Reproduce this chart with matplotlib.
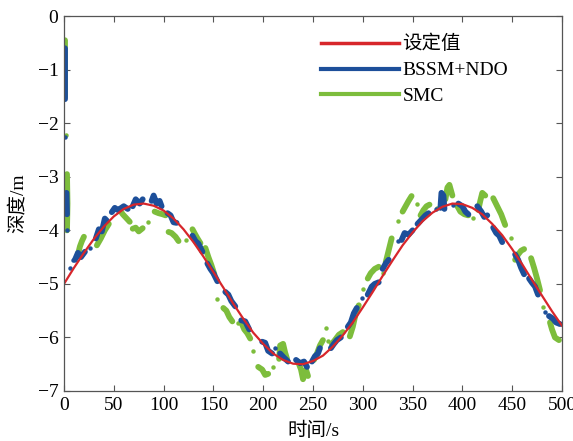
import numpy as np
import matplotlib
matplotlib.use("Agg")
import matplotlib.pyplot as plt
from matplotlib.lines import Line2D

plt.rcParams['font.family'] = ['Liberation Serif', 'Noto Sans CJK SC']
plt.rcParams['axes.unicode_minus'] = True

# setpoint read every 10 s
ref_t = list(range(0, 501, 10))
ref_depth = [-5.00, -4.70, -4.42, -4.16, -3.93, -3.74, -3.60, -3.52, -3.50, -3.54,
             -3.63, -3.78, -3.98, -4.22, -4.49, -4.78, -5.07, -5.37, -5.65, -5.91,
             -6.12, -6.30, -6.42, -6.49, -6.50, -6.44, -6.34, -6.17, -5.96, -5.72,
             -5.44, -5.15, -4.85, -4.56, -4.28, -4.04, -3.83, -3.67, -3.56, -3.50,
             -3.51, -3.58, -3.70, -3.88, -4.09, -4.35, -4.63, -4.93, -5.22, -5.51,
             -5.78]

# BSSM+NDO: visible clusters of samples (t, depth)
bssm_runs = [
    [(1, -0.6), (1, -1.55)],
    [(2.5, -3.3), (3, -3.7)],
    [(11, -4.55), (14, -4.42), (17, -4.5), (21, -4.4)],
    [(32, -4.15), (35, -3.98), (38, -4.02), (41, -3.78), (43, -3.82)],
    [(48, -3.66), (51, -3.58), (54, -3.62)],
    [(56, -3.6), (60, -3.55), (64, -3.6)],
    [(69, -3.55), (72, -3.42), (76, -3.5), (79, -3.42)],
    [(88, -3.45), (90, -3.35), (93, -3.5), (96, -3.45), (98, -3.55)],
    [(104, -3.68), (107, -3.72), (110, -3.85), (113, -3.86)],
    [(129, -4.1), (132, -4.2), (135, -4.25), (139, -4.4)],
    [(144, -4.62), (147, -4.72), (150, -4.8), (154, -4.95)],
    [(162, -5.15), (165, -5.2), (168, -5.32), (172, -5.42)],
    [(178, -5.68), (182, -5.7), (186, -5.85)],
    [(199, -6.08), (202, -6.1), (205, -6.25), (209, -6.3)],
    [(217, -6.3), (221, -6.38), (225, -6.45)],
    [(233, -6.42), (237, -6.48), (241, -6.45), (244, -6.55)],
    [(249, -6.45), (252, -6.35), (255, -6.3), (257, -6.2)],
    [(268, -6.2), (271, -6.12), (274, -6.05), (278, -6.0)],
    [(285, -5.8), (288, -5.72), (291, -5.55), (294, -5.45)],
    [(305, -5.2), (309, -5.05), (312, -5.0), (316, -4.97)],
    [(320, -4.72), (323, -4.62), (326, -4.55)],
    [(339, -4.18), (342, -4.05), (346, -4.08), (350, -4.0)],
    [(355, -3.88), (359, -3.8), (363, -3.72), (366, -3.68)],
    [(378, -3.58), (379, -3.3), (381, -3.35), (382, -3.6)],
    [(396, -3.5), (400, -3.55), (403, -3.65), (406, -3.7)],
    [(415, -3.55), (419, -3.65), (422, -3.75), (425, -3.72)],
    [(431, -3.95), (434, -4.05), (437, -4.1), (440, -4.22)],
    [(453, -4.45), (456, -4.55), (459, -4.7), (462, -4.82)],
    [(467, -4.9), (470, -4.98), (473, -5.05), (476, -5.2)],
    [(487, -5.6), (491, -5.65), (494, -5.72), (498, -5.75)],
]
bssm_dots = [(1.5, -2.25), (3.5, -4.0), (6, -4.7), (9, -4.55), (26, -4.33),
             (212, -6.2), (299, -5.26), (335, -4.2), (374, -3.6), (391, -3.53),
             (483, -5.52)]

# SMC: visible clusters of samples (t, depth)
smc_runs = [
    [(1, -0.45), (1, -1.5)],
    [(3, -2.95), (3.5, -3.5), (3, -4.0)],
    [(14, -4.45), (16, -4.3), (18, -4.2), (20, -4.12)],
    [(33, -4.28), (37, -4.15), (41, -4.0), (45, -3.88)],
    [(56, -3.62), (59, -3.7), (63, -3.78), (66, -3.84)],
    [(69, -3.97), (72, -3.95), (75, -4.02), (79, -3.96)],
    [(91, -3.65), (95, -3.68), (99, -3.7), (102, -3.72)],
    [(105, -4.03), (108, -4.05), (112, -4.12), (115, -4.2)],
    [(129, -3.98), (131, -4.05), (134, -4.15), (137, -4.24)],
    [(142, -4.33), (145, -4.5), (148, -4.65), (151, -4.82)],
    [(160, -5.45), (163, -5.5), (166, -5.62), (169, -5.7)],
    [(178, -5.72), (181, -5.85), (184, -5.92), (187, -6.02)],
    [(195, -6.55), (199, -6.6), (202, -6.7), (205, -6.68)],
    [(216, -6.4), (217, -6.15), (220, -6.12), (222, -6.28), (224, -6.4)],
    [(235, -6.45), (238, -6.6), (240, -6.78), (243, -6.6), (245, -6.72)],
    [(251, -6.42), (254, -6.3), (257, -6.15), (260, -6.05)],
    [(269, -6.12), (272, -6.05), (276, -5.95), (280, -5.9)],
    [(287, -5.98), (290, -5.8), (293, -5.55), (296, -5.4)],
    [(305, -4.9), (308, -4.8), (312, -4.72), (316, -4.68)],
    [(323, -4.6), (325, -4.45), (327, -4.3), (329, -4.15)],
    [(340, -3.65), (343, -3.55), (346, -3.45), (349, -3.36)],
    [(358, -3.72), (361, -3.62), (364, -3.55), (367, -3.52)],
    [(383, -3.42), (385, -3.2), (387, -3.15), (390, -3.35)],
    [(395, -3.55), (398, -3.65), (402, -3.7), (406, -3.72)],
    [(416, -3.62), (418, -3.45), (420, -3.3), (423, -3.35)],
    [(431, -3.4), (435, -3.55), (439, -3.7), (443, -3.9)],
    [(453, -4.55), (456, -4.45), (459, -4.38), (462, -4.35)],
    [(469, -4.52), (472, -4.7), (475, -4.9), (478, -5.12)],
    [(488, -5.72), (490, -5.85), (493, -6.0), (497, -6.05)],
]
smc_dots = [(2, -2.22), (84, -3.84), (123, -4.18), (154, -5.28), (175, -5.73),
            (190, -6.25), (210, -6.55), (263, -5.82), (265, -6.06), (300, -5.1),
            (320, -4.8), (335, -3.82), (354, -3.5), (375, -3.58), (411, -3.77),
            (449, -4.14), (481, -5.43)]

labels = ['设定值', 'BSSM+NDO', 'SMC']
RED = '#d7262b'
BLUE = '#1d4f9a'
GREEN = '#7dbd3c'


def join_runs(runs):
    xs, ys = [], []
    for run in runs:
        for t, d in run:
            xs.append(t)
            ys.append(d)
        xs.append(np.nan)
        ys.append(np.nan)
    return xs, ys


fig = plt.figure(figsize=(5.73, 4.41), dpi=100)
ax = fig.add_axes([0.1117, 0.1134, 0.869, 0.850])

for runs, dots, color in [(smc_runs, smc_dots, GREEN), (bssm_runs, bssm_dots, BLUE)]:
    xs, ys = join_runs(runs)
    ax.plot(xs, ys, color=color, lw=4.2, solid_capstyle='round', solid_joinstyle='round')
    ax.plot([p[0] for p in dots], [p[1] for p in dots], 'o', color=color, ms=3.2, mew=0)

ax.plot(ref_t, ref_depth, color=RED, lw=1.6)

ax.set_xlim(0, 500)
ax.set_ylim(-7, 0)
ax.set_xticks(range(0, 501, 50))
ax.set_yticks(range(-7, 1))
ax.tick_params(direction='in', length=4, top=True, right=True, labelsize=14,
               color='#555555', pad=4)
for sp in ax.spines.values():
    sp.set_color('#555555')
    sp.set_linewidth(0.9)

ax.set_xlabel('时间/s', fontsize=14, labelpad=6)
ax.set_ylabel('深度/m', fontsize=14, labelpad=8)

handles = [Line2D([], [], color=RED, lw=2.5),
           Line2D([], [], color=BLUE, lw=3),
           Line2D([], [], color=GREEN, lw=3)]
ax.legend(handles, labels, loc='upper left', bbox_to_anchor=(0.516, 0.95),
          frameon=False, fontsize=14, handlelength=4.0, handletextpad=0.2,
          borderaxespad=0, borderpad=0, labelspacing=0.43)

fig.savefig('out.png', dpi=100)
